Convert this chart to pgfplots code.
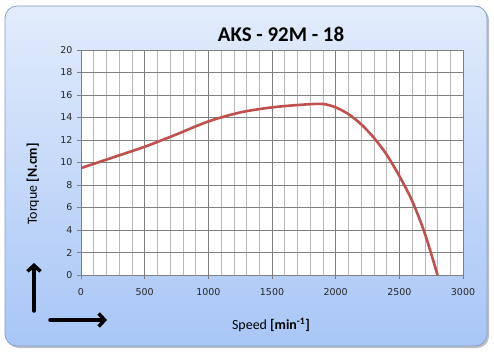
\documentclass[border=0pt]{standalone}
\usepackage{pgfplots}
\pgfplotsset{compat=1.18}
\usepackage{fontspec}
\setmainfont{Carlito}
\newfontfamily\tickfont{DejaVu Sans}
\usetikzlibrary{arrows.meta,shadings}
\definecolor{bgtop}{RGB}{226,236,252}
\definecolor{bgbot}{RGB}{168,198,246}
\definecolor{bgborder}{RGB}{130,160,205}
\definecolor{curve}{RGB}{192,80,77}
\begin{document}
\begin{tikzpicture}[x=1bp,y=1bp]
\path (0,0) rectangle (494,353);
% shadow
\fill[black!25, rounded corners=12bp] (7,5) rectangle (489,345);
\shade[top color=bgtop, bottom color=bgbot, draw=bgborder, line width=0.8bp, rounded corners=12bp] (5,7) rectangle (487,347);
\node[font=\bfseries\fontsize{21}{24}\selectfont] at (281,319) {AKS - 92M - 18};
\begin{axis}[
  at={(81bp,78bp)}, anchor=origin,
  scale only axis, width=382bp, height=225bp,
  xmin=0, xmax=3000, ymin=0, ymax=20,
  xtick={0,500,...,3000}, minor x tick num=4,
  ytick={0,2,...,20},
  grid=both,
  major grid style={draw=black!50, line width=0.6bp},
  minor grid style={draw=black!28, line width=0.6bp},
  axis line style={draw=black!50, line width=0.6bp},
  tick style={draw=black!50, line width=0.6bp},
  tick align=outside, major tick length=4bp, minor tick length=0pt,
  xtick pos=bottom, ytick pos=left,
  axis background/.style={fill=white},
  ticklabel style={font=\tickfont\fontsize{9.5}{11}\selectfont, text=black!85},
  /pgf/number format/assume math mode=true,
  /pgf/number format/1000 sep={},
  xticklabel style={yshift=-6bp},
  yticklabel style={xshift=-1bp},
]
\addplot[curve, line width=2.6bp, smooth, tension=0.5] coordinates {
(0,9.5) (250,10.45) (500,11.4) (750,12.5) (1000,13.65) (1250,14.45) (1500,14.9) (1750,15.15) (1900,15.2) (2000,14.9) (2100,14.3) (2200,13.4) (2300,12.2) (2400,10.7) (2500,8.8) (2600,6.6) (2700,3.7) (2800,0)
};
\end{axis}
\node[rotate=90, font=\fontsize{14}{16}\selectfont] at (33,169) {Torque \textbf{[N.cm]}};
\node[font=\fontsize{14}{16}\selectfont] at (271,28) {Speed \textbf{[min\textsuperscript{-1}]}};
\draw[line width=3.5bp, line cap=round, -{Straight Barb[length=6bp,width=13bp,line width=3.5bp]}] (34,42) -- (34,90);
\draw[line width=3.5bp, line cap=round, -{Straight Barb[length=6bp,width=13bp,line width=3.5bp]}] (50,33) -- (107,33);
\end{tikzpicture}
\end{document}
